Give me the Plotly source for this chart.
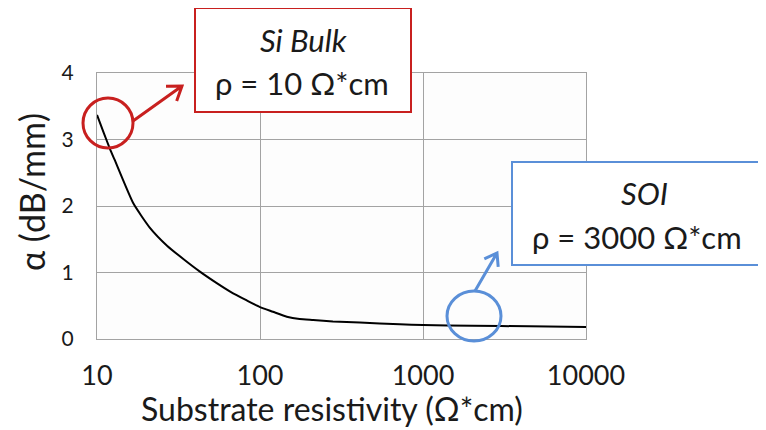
import math
import plotly.graph_objects as go

# ---- data ----
rho = [10, 11, 12, 12.8, 16.7, 21, 27, 34, 43, 54, 66, 83, 100, 120, 146, 175, 212, 280, 410, 720, 1000, 2000, 4500, 10000]
alpha = [3.37, 3.10, 2.86, 2.70, 2.04, 1.68, 1.40, 1.20, 1.01, 0.845, 0.71, 0.58, 0.48, 0.41, 0.335, 0.30, 0.286, 0.265, 0.25, 0.22, 0.21, 0.20, 0.19, 0.18]
x_ticks = [10, 100, 1000, 10000]
x_tick_text = ["10", "100", "1000", "10000"]
y_ticks = [0, 1, 2, 3, 4]

FONT = "Lato, 'Open Sans', sans-serif"
TXT = "#1a1a1a"
RED = "#c8201f"
BLUE = "#5a8fd8"
GRID = "#a3a3a3"

# window 766x430; page body has an 8px margin
OFF = 8
WIN_W, WIN_H = 766, 430
W, H = WIN_W - OFF, WIN_H - OFF
# plot area in window pixels
L, R, T, B = 97, 586, 73, 339


def px(x):
    return (x - L) / (R - L)


def py(y):
    return (B - y) / (B - T)


def arrow_path(x0, y0, x1, y1, arm=16, ang=35):
    dx, dy = x1 - x0, y1 - y0
    n = math.hypot(dx, dy)
    vx, vy = -dx / n, -dy / n
    pts = []
    for s in (1, -1):
        a = math.radians(ang * s)
        bx = vx * math.cos(a) - vy * math.sin(a)
        by = vx * math.sin(a) + vy * math.cos(a)
        pts.append((x1 + arm * bx, y1 + arm * by))
    p = f"M {px(x0)} {py(y0)} L {px(x1)} {py(y1)} "
    p += f"M {px(pts[0][0])} {py(pts[0][1])} L {px(x1)} {py(y1)} L {px(pts[1][0])} {py(pts[1][1])}"
    return p


fig = go.Figure(
    go.Scatter(
        x=rho, y=alpha, mode="lines",
        line=dict(color="black", width=2, shape="spline", smoothing=0.5),
        hoverinfo="skip", showlegend=False,
    )
)

shapes = [
    # Si Bulk box
    dict(type="rect", xref="paper", yref="paper", x0=px(195), x1=px(411), y0=py(112), y1=py(8),
         line=dict(color=RED, width=2), fillcolor="white", layer="above"),
    # SOI box
    dict(type="rect", xref="paper", yref="paper", x0=px(512), x1=px(772), y0=py(265), y1=py(162),
         line=dict(color=BLUE, width=2), fillcolor="white", layer="above"),
    # circles
    dict(type="circle", xref="paper", yref="paper", x0=px(83), x1=px(133), y0=py(148), y1=py(98),
         line=dict(color=RED, width=3), layer="above"),
    dict(type="circle", xref="paper", yref="paper", x0=px(447), x1=px(501), y0=py(341), y1=py(291),
         line=dict(color=BLUE, width=3), layer="above"),
    # arrows
    dict(type="path", xref="paper", yref="paper", path=arrow_path(133, 121, 182, 86),
         line=dict(color=RED, width=3), layer="above"),
    dict(type="path", xref="paper", yref="paper", path=arrow_path(475, 291, 497, 253, arm=14),
         line=dict(color=BLUE, width=3), layer="above"),
]

annotations = [
    dict(text="<i>Si Bulk</i>", x=px(303), y=py(40)),
    dict(text="ρ = 10 Ω*cm", x=px(302), y=py(83)),
    dict(text="<i>SOI</i>", x=px(644), y=py(193)),
    dict(text="ρ = 3000 Ω*cm", x=px(637), y=py(237)),
]
for a in annotations:
    a.update(xref="paper", yref="paper", showarrow=False, xanchor="center", yanchor="middle",
             font=dict(family=FONT, size=31, color=TXT))

annotations += [
    dict(text="α (dB/mm)", x=px(31), y=py(192), xref="paper", yref="paper", showarrow=False,
         textangle=-90, xanchor="center", yanchor="middle",
         font=dict(family=FONT, size=34, color=TXT)),
    dict(text="Substrate resistivity (Ω*cm)", x=px(332), y=py(408), xref="paper", yref="paper",
         showarrow=False, xanchor="center", yanchor="middle",
         font=dict(family=FONT, size=32, color=TXT)),
]

fig.update_layout(
    width=W, height=H,
    margin=dict(l=L - OFF, r=WIN_W - R, t=T - OFF, b=WIN_H - B, pad=0),
    paper_bgcolor="white",
    plot_bgcolor="#fdfdfd",
    font=dict(family=FONT, color=TXT),
    shapes=shapes,
    annotations=annotations,
    xaxis=dict(
        type="log", range=[1, 4], tickvals=x_ticks, ticktext=x_tick_text,
        showgrid=True, gridcolor=GRID, gridwidth=1,
        showline=True, linecolor=GRID, linewidth=1, mirror=True,
        ticks="", ticklabelstandoff=13, zeroline=False,
        tickfont=dict(family=FONT, size=27, color=TXT),
    ),
    yaxis=dict(
        range=[0, 4], tickvals=y_ticks,
        showgrid=True, gridcolor=GRID, gridwidth=1,
        showline=True, linecolor=GRID, linewidth=1, mirror=True,
        ticks="", ticklabelstandoff=18, zeroline=False,
        tickfont=dict(family=FONT, size=21, color=TXT),
    ),
)

fig.write_html("out.html")
